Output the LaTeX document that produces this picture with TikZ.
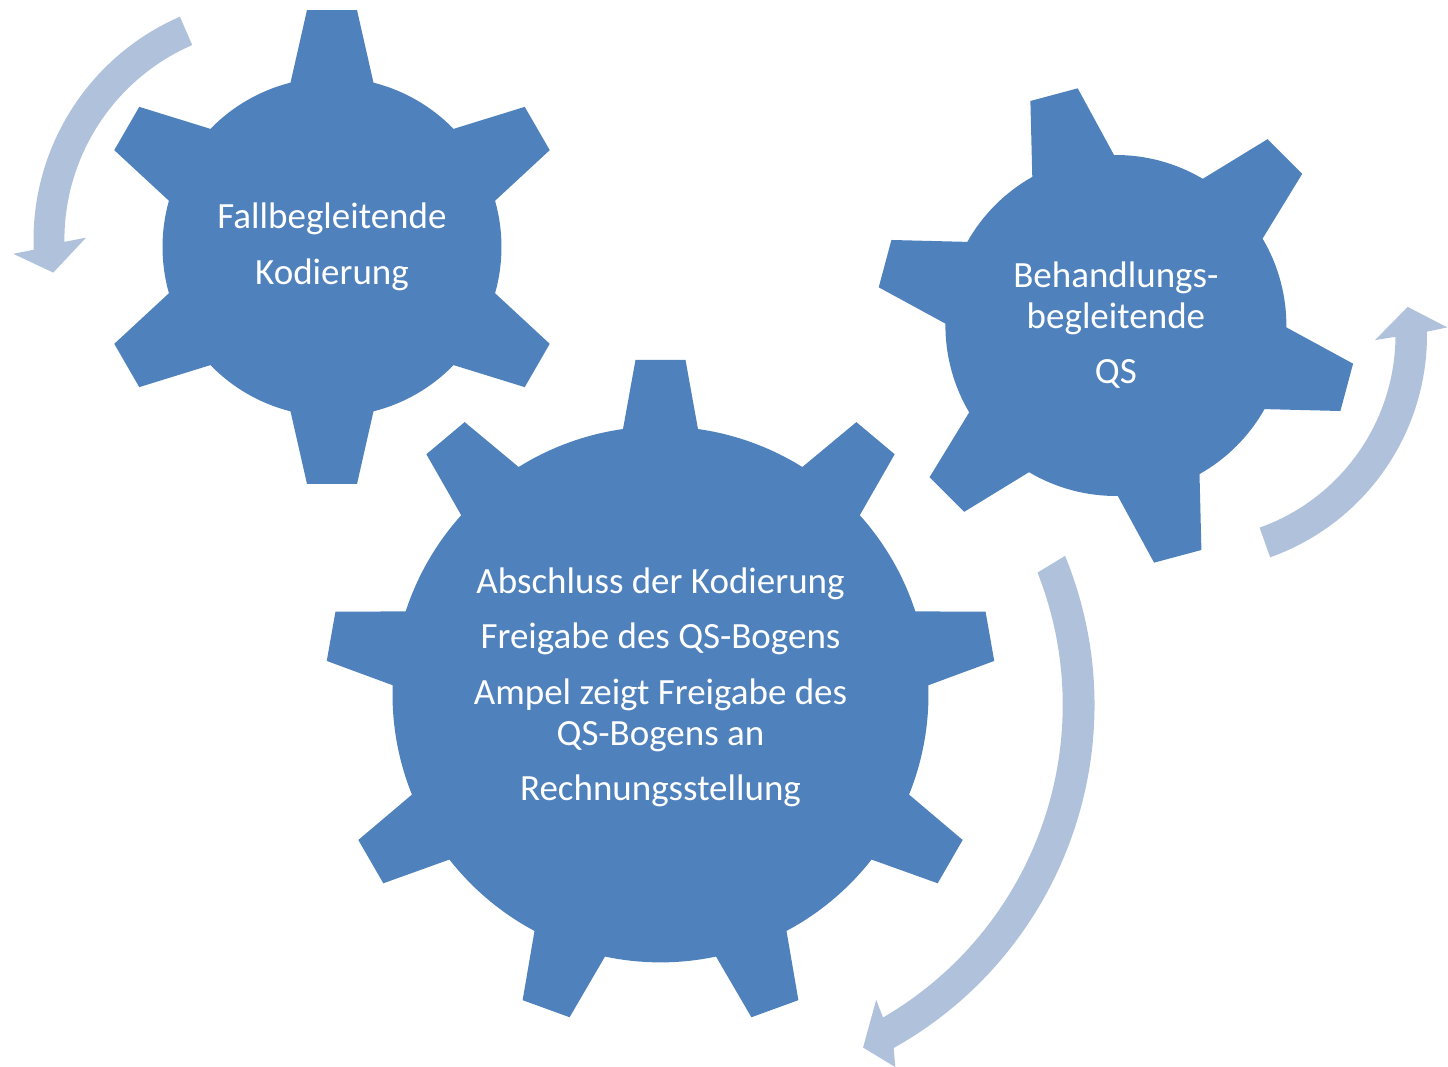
\documentclass[tikz,border=0pt]{standalone}
\usepackage{fontspec}
\setmainfont{Carlito}
\definecolor{gearblue}{HTML}{4F81BD}
\definecolor{arrowblue}{HTML}{B0C1DC}

% Gear outline: #1 teeth, #2 angle of first tooth, #3 tip radius,
% #4 tip half width, #5 body radius, #6 base half width
\newcommand{\gearoutline}[6]{%
  \pgfmathsetmacro\gStep{360/#1}%
  \pgfmathsetmacro\gBeta{asin(#6/#5)}%
  \pgfmathsetmacro\gGamma{atan(#4/#3)}%
  \pgfmathsetmacro\gTip{#3/cos(\gGamma)}%
  \pgfmathsetmacro\gStart{#2-\gBeta}%
  \pgfmathtruncatemacro\gLast{#1-1}%
  \fill[gearfill] (\gStart:#5)
    \foreach \k [evaluate=\k as \gA using #2+\k*\gStep-\gBeta,
                 evaluate=\k as \gB using #2+\k*\gStep-\gGamma,
                 evaluate=\k as \gC using #2+\k*\gStep+\gGamma,
                 evaluate=\k as \gD using #2+\k*\gStep+\gBeta,
                 evaluate=\k as \gE using #2+\k*\gStep+\gStep-\gBeta] in {0,...,\gLast}
    { -- (\gA:#5) -- (\gB:\gTip) -- (\gC:\gTip) -- (\gD:#5)
      arc[start angle=\gD, end angle=\gE, radius=#5] }
    -- cycle;%
}

\begin{document}
\begin{tikzpicture}[x=0.5pt, y=0.5pt,
  gearfill/.style={fill=gearblue},
  arrowfill/.style={fill=arrowblue},
  lbl/.style={text=white, inner sep=0pt, anchor=base,
              font=\fontsize{18.5pt}{20.5pt}\selectfont}]
\useasboundingbox (0,0) rectangle (1448,1067);

% circular arrows
\begin{scope}[shift={(277,827)}]
  \fill[arrowfill] (113.5:243.5) arc[start angle=113.5, end angle=182.3, radius=243.5]
    -- (183:264.1) -- (188.3:226.1) -- (179.3:191) -- (180.5:212.6)
    arc[start angle=180.5, end angle=113.5, radius=212.6] -- cycle;
\end{scope}
\begin{scope}[shift={(1191,732)}]
  \fill[arrowfill] (-70.4:236) arc[start angle=-70.4, end angle=0.8, radius=236]
    -- (1.7:256.4) -- (7.4:218.5) -- (-1.6:184.1) -- (-0.5:204.5)
    arc[start angle=-0.5, end angle=-70.4, radius=204.5] -- cycle;
\end{scope}
\begin{scope}[shift={(701.2,361.9)}]
  \fill[arrowfill] (22.3:393.3) arc[start angle=22.3, end angle=-60.7, radius=393.3]
    -- (-61.8:410.8) -- (-64.7:378.8) -- (-59.3:342.8) -- (-59.8:361.5)
    arc[start angle=-59.8, end angle=21.5, radius=361.5] -- cycle;
\end{scope}

% gears
\begin{scope}[shift={(332,820)}]
  \gearoutline{6}{90}{237}{25}{169.5}{41.5}
\end{scope}
\begin{scope}[shift={(1115.9,741.5)}]
  \gearoutline{6}{105}{239}{24.5}{170.5}{42.3}
\end{scope}
\begin{scope}[shift={(660.5,372.6)}]
  \gearoutline{9}{90}{334.5}{25}{268}{37.5}
\end{scope}

% labels
\node[lbl] (fa1) at (332,838) {Fallbegleitende};
\node[lbl] (fa2) at (332,782) {Kodierung};

\node[lbl] (qs1) at (1115.9,779.7) {Behandlungs-};
\node[lbl] (qs2) at (1115.9,738.7) {begleitende};
\node[lbl] (qs3) at (1115.9,683.7) {QS};

\node[lbl] (ab1) at (660.5,473.7) {Abschluss der Kodierung};
\node[lbl] (ab2) at (660.5,418) {Freigabe des QS-Bogens};
\node[lbl] (ab3) at (660.5,362.7) {Ampel zeigt Freigabe des};
\node[lbl] (ab4) at (660.5,321.7) {QS-Bogens an};
\node[lbl] (ab5) at (660.5,266.3) {Rechnungsstellung};
\end{tikzpicture}
\end{document}
